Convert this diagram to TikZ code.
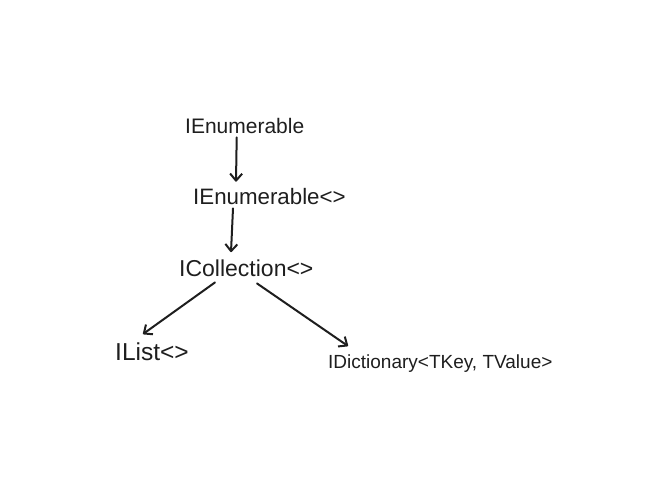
\documentclass[tikz,border=0pt]{standalone}
\usepackage{fontspec}
\setmainfont{Liberation Sans}
\usetikzlibrary{arrows.meta}
\definecolor{ink}{HTML}{1E1E1E}

\begin{document}
\begin{tikzpicture}[x=1pt, y=-1pt,
        iface/.style = {anchor=base west, inner sep=0pt, text=ink},
        inherit/.style = {draw=ink, line width=2pt, line cap=round,
            -{Straight Barb[length=7pt, width=12pt, line join=round]}}]
            \useasboundingbox (0, 0) rectangle (662, 482);
            % interface names
                \node[iface, font=\fontsize{21}{25}\selectfont] (enum) at (185, 133) {IEnumerable};
                \node[iface, font=\fontsize{22.3}{26}\selectfont] (enumgen) at (193, 204) {IEnumerable<>};
                \node[iface, font=\fontsize{23}{27}\selectfont] (coll) at (179, 276) {ICollection<>};
                \node[iface, font=\fontsize{24.5}{29}\selectfont] (list) at (115, 360) {IList<>};
                \node[iface, font=\fontsize{19}{23}\selectfont] (dict) at (328, 368) {IDictionary<TKey, TValue>};

            % inheritance arrows
                \draw[inherit] ([shift={(51.7, 4)}]enum.south west) -- ([shift={(43, -6)}]enumgen.north west);
                \draw[inherit] ([shift={(40, 4)}]enumgen.south west) -- ([shift={(52, -7)}]coll.north west);
                \draw[inherit] ([shift={(36, 6)}]coll.south west) -- ([shift={(28, -8)}]list.north west);
                \draw[inherit] ([shift={(78, 7)}]coll.south west) -- ([shift={(20, -8)}]dict.north west);
            \end{tikzpicture}
\end{document}
